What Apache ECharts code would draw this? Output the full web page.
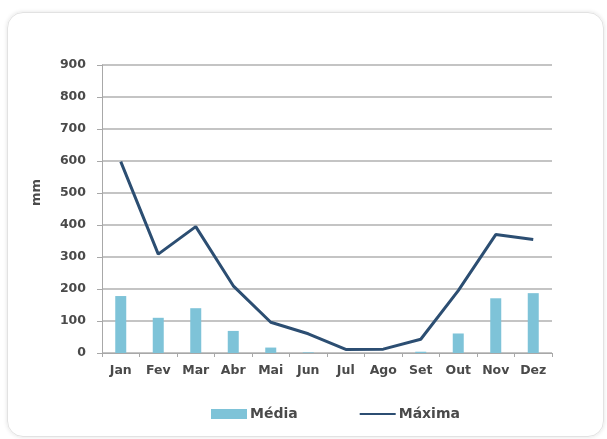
<!DOCTYPE html>
<html>
<head>
<meta charset="utf-8">
<script src="https://cdn.jsdelivr.net/npm/echarts@6/dist/echarts.min.js"></script>
<style>
  html, body { margin: 0; padding: 0; background: #ffffff; }
  #card {
    position: absolute; left: 7px; top: 12px; width: 597px; height: 425px;
    border: 1px solid #e2e2e2; border-radius: 16px; box-sizing: border-box;
    box-shadow: 0 0 4px rgba(0,0,0,0.12);
  }
  #chart { position: absolute; left: 0; top: 0; width: 607px; height: 439px; }
</style>
</head>
<body>
<div id="card"></div>
<div id="chart"></div>
<script>
// Monthly rainfall (mm): mean and maximum
const months = ['Jan', 'Fev', 'Mar', 'Abr', 'Mai', 'Jun', 'Jul', 'Ago', 'Set', 'Out', 'Nov', 'Dez'];
const media = [178, 110, 140, 69, 17, 2, 0, 0, 4, 61, 171, 187];
const maxima = [598, 309, 395, 210, 96, 60, 11, 12, 43, 195, 370, 355];
const yTicks = { min: 0, max: 900, step: 100 };

const labelFont = { fontFamily: 'DejaVu Sans', fontWeight: 'bold', fontSize: 12.5, color: '#4a4a4a' };

const chart = echarts.init(document.getElementById('chart'), null, { renderer: 'canvas' });
chart.setOption({
  animation: false,
  grid: { left: 102, right: 55, top: 65, bottom: 86 },
  graphic: [{
    type: 'text',
    left: 30,
    top: 179,
    rotation: Math.PI / 2,
    style: { text: 'mm', fontFamily: 'DejaVu Sans', fontWeight: 'bold', fontSize: 13, fill: '#4a4a4a' }
  }],
  legend: {
    top: 402,
    left: 206,
    itemGap: 61,
    itemWidth: 36,
    itemHeight: 10,
    textStyle: Object.assign({}, labelFont, { fontSize: 14, padding: [0, 0, 0, -2] }),
    data: [
      { name: 'Média', icon: 'rect' },
      { name: 'Máxima', itemStyle: { opacity: 0 } }
    ]
  },
  xAxis: {
    type: 'category',
    data: months,
    boundaryGap: true,
    axisLine: { lineStyle: { color: '#a8a8a8', width: 1 } },
    axisTick: { show: true, length: 4, lineStyle: { color: '#a8a8a8' } },
    axisLabel: Object.assign({}, labelFont, { margin: 11, interval: 0 })
  },
  yAxis: {
    type: 'value',
    min: yTicks.min,
    max: yTicks.max,
    interval: yTicks.step,
    axisLine: { show: true, lineStyle: { color: '#a8a8a8', width: 1 } },
    axisTick: { show: true, length: 5, lineStyle: { color: '#a8a8a8' } },
    axisLabel: Object.assign({}, labelFont, { margin: 16 }),
    splitLine: { lineStyle: { color: '#c4c4c4', width: 2 } }
  },
  series: [
    {
      name: 'Média',
      type: 'bar',
      data: media,
      barWidth: 11,
      itemStyle: { color: '#7ec3d8' }
    },
    {
      name: 'Máxima',
      type: 'line',
      data: maxima,
      symbol: 'none',
      lineStyle: { color: '#2c4e72', width: 3 },
      itemStyle: { color: '#2c4e72' }
    }
  ]
});
</script>
</body>
</html>
